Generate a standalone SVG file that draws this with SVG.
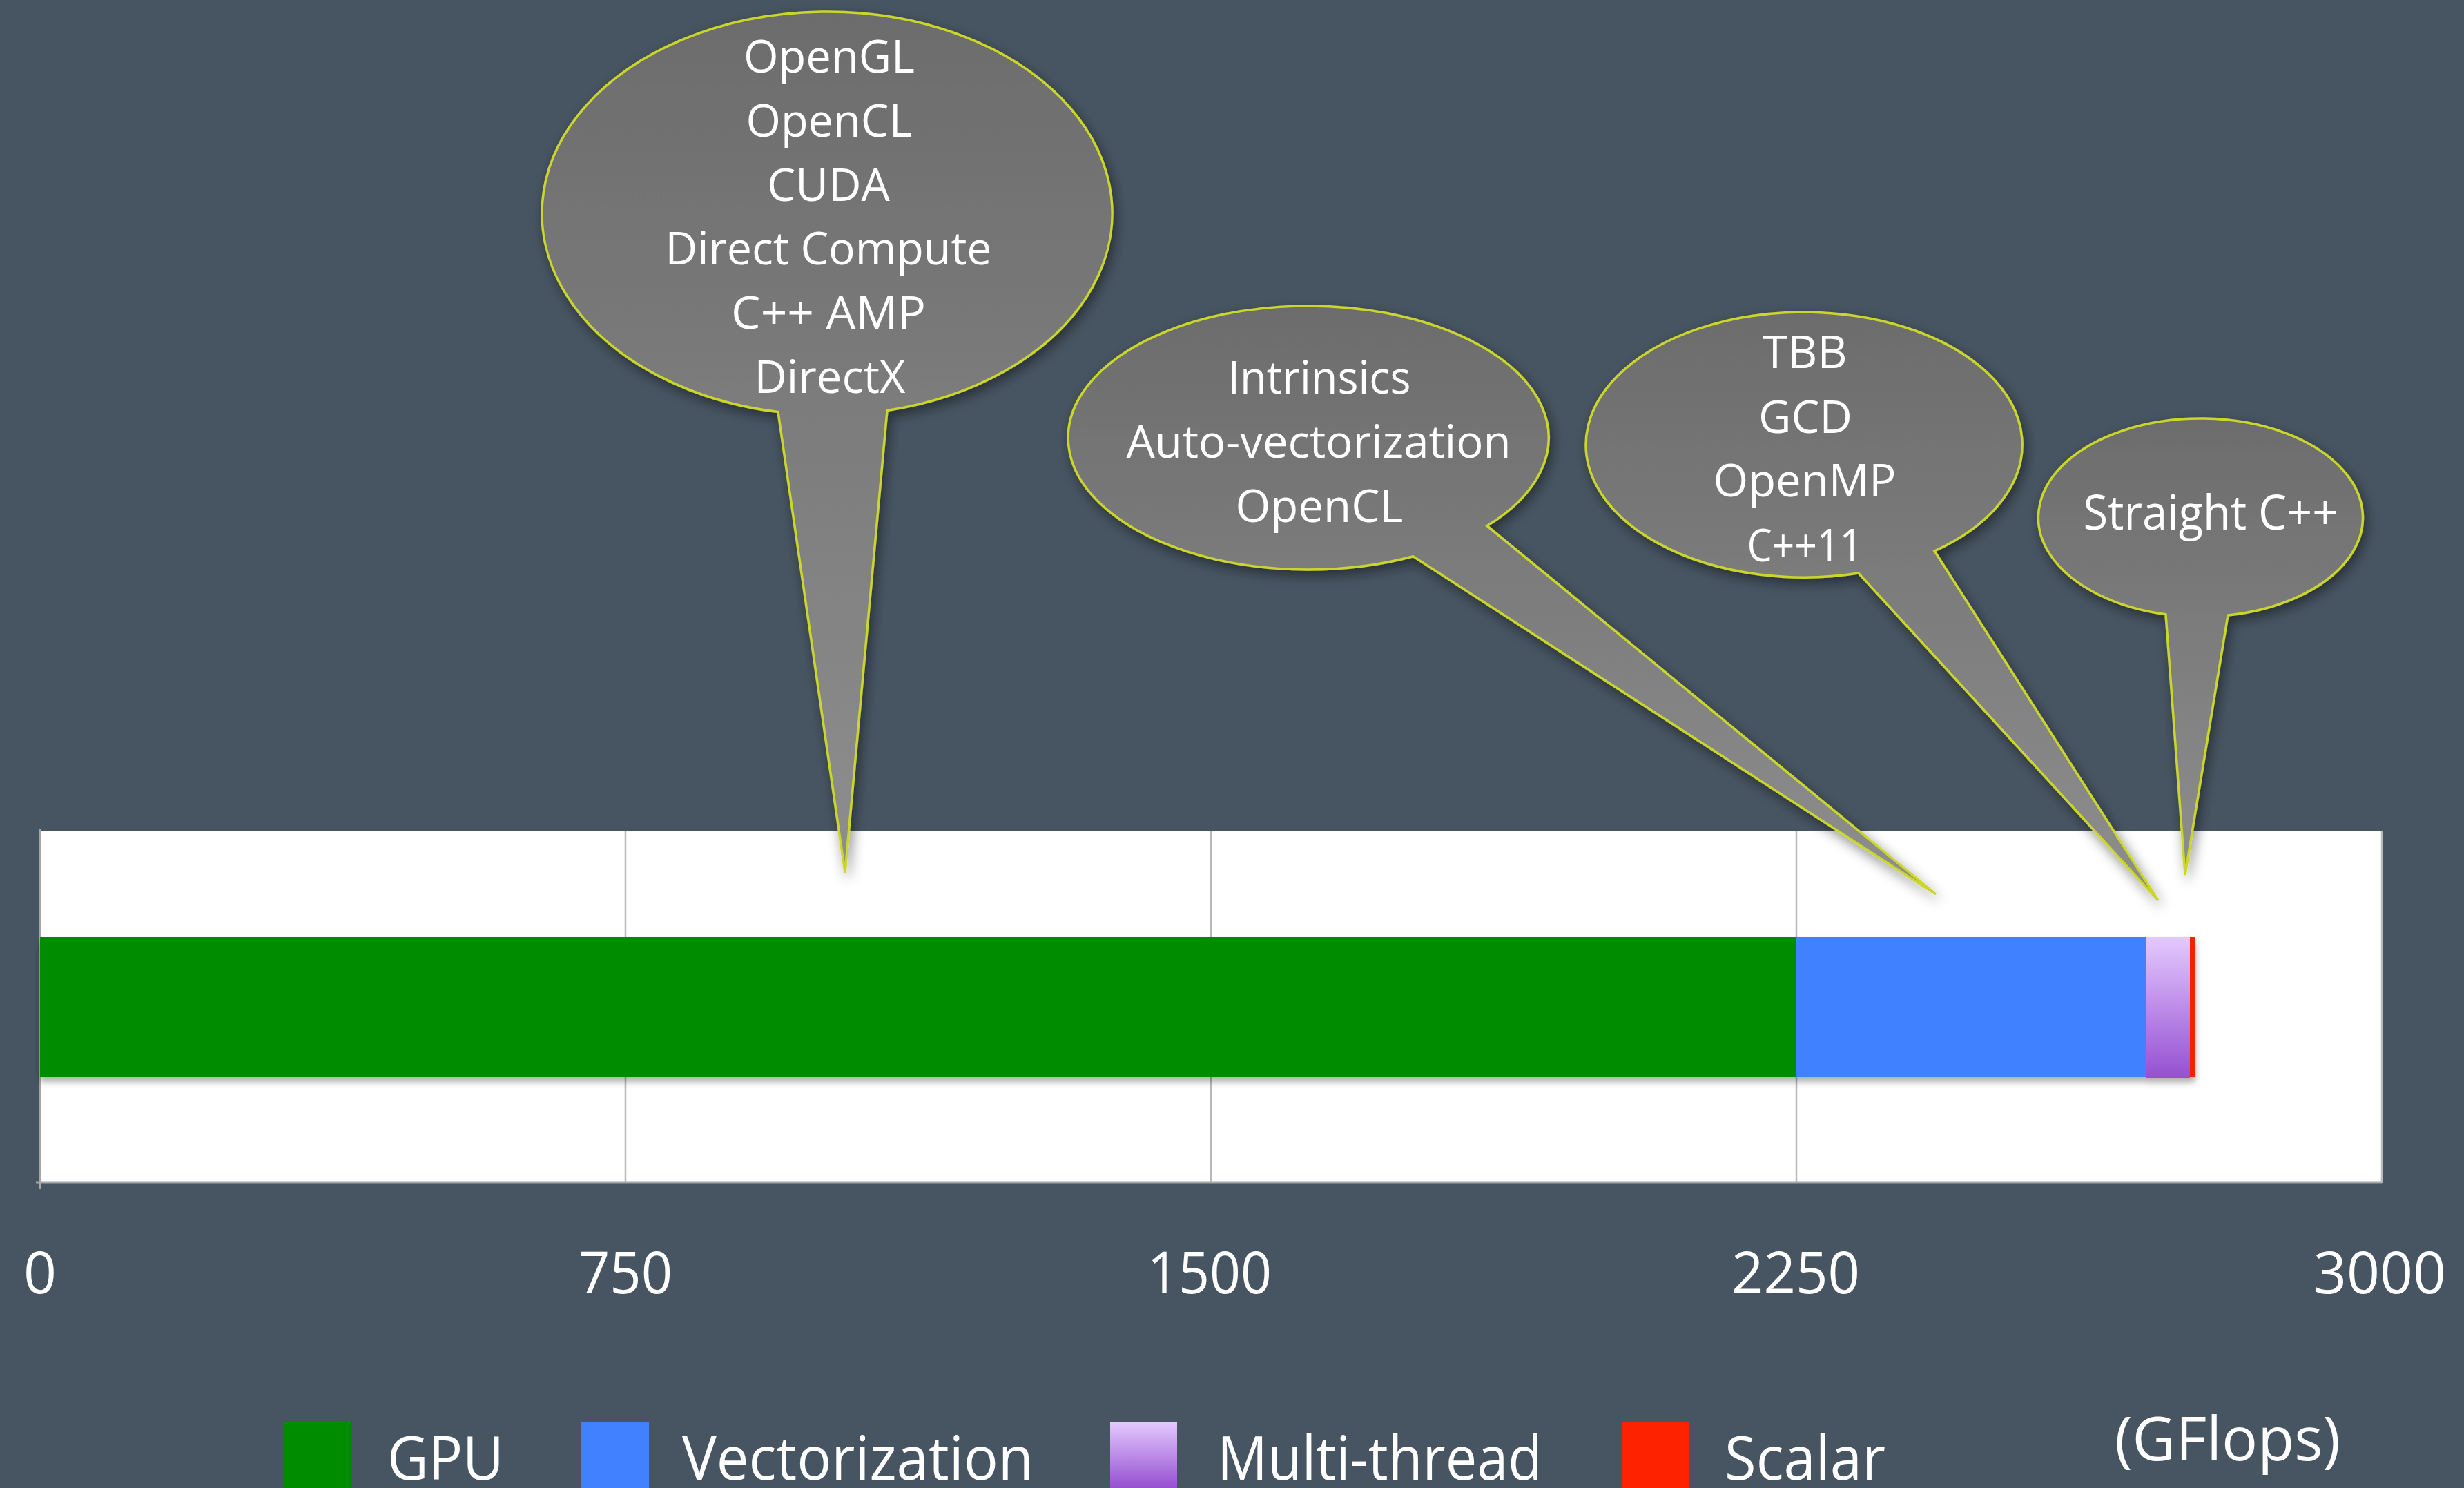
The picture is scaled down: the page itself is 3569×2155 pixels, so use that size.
<svg xmlns="http://www.w3.org/2000/svg" width="3569" height="2155" viewBox="0 0 3569 2155">
<defs>
<style>
text{font-family:"Open Sans","Noto Sans","Liberation Sans",sans-serif;fill:#ffffff;}
.bt{font-size:66px;text-anchor:middle;}
.ax{font-size:85px;text-anchor:middle;}
.lg{font-size:88px;}
.balloon{fill:url(#bfill);stroke:#cbd62c;stroke-width:3.5;stroke-linejoin:miter;filter:url(#bshadow);}
.grid{stroke:#b9b9b9;stroke-width:2.5;}
.axis{stroke:#a6a6a6;stroke-width:3;}
</style>
<linearGradient id="bfill" x1="0" y1="0" x2="0" y2="1">
<stop offset="0" stop-color="#6c6c6c"/>
<stop offset="1" stop-color="#8e8e8e"/>
</linearGradient>
<linearGradient id="mt" x1="0" y1="0" x2="0" y2="1">
<stop offset="0" stop-color="#e4c9ff"/>
<stop offset="1" stop-color="#9550d0"/>
</linearGradient>
<filter id="bshadow" x="-10%" y="-10%" width="125%" height="125%">
<feDropShadow dx="4" dy="7" stdDeviation="9" flood-color="#000000" flood-opacity="0.45"/>
</filter>
<filter id="barshadow" x="-5%" y="-20%" width="110%" height="150%">
<feDropShadow dx="0" dy="7" stdDeviation="5" flood-color="#000000" flood-opacity="0.3"/>
</filter>
</defs>
<rect x="0" y="0" width="3569" height="2155" fill="#475562"/>

<g id="plot">
<rect x="58" y="1203" width="3392" height="510" fill="#ffffff"/>
<line class="grid" x1="906" y1="1203" x2="906" y2="1713"/>
<line class="grid" x1="1754" y1="1203" x2="1754" y2="1713"/>
<line class="grid" x1="2602" y1="1203" x2="2602" y2="1713"/>
<line class="grid" x1="3450" y1="1203" x2="3450" y2="1713"/>
<line class="axis" x1="58" y1="1200" x2="58" y2="1722"/>
<line class="axis" x1="52" y1="1713" x2="3450" y2="1713"/>
</g>

<g id="bar" filter="url(#barshadow)">
<rect x="58" y="1357" width="2544" height="203" fill="#008c00"/>
<rect x="2602" y="1357" width="506" height="203" fill="#4181ff"/>
<rect x="3108" y="1357" width="64" height="204" fill="url(#mt)"/>
<rect x="3172" y="1357" width="8" height="203" fill="#f52200"/>
</g>

<g id="axis-labels">
<text class="ax" x="58" y="1873" textLength="48" lengthAdjust="spacingAndGlyphs">0</text>
<text class="ax" x="906" y="1873" textLength="136" lengthAdjust="spacingAndGlyphs">750</text>
<text class="ax" x="1752" y="1873" textLength="180" lengthAdjust="spacingAndGlyphs">1500</text>
<text class="ax" x="2601" y="1873" textLength="186" lengthAdjust="spacingAndGlyphs">2250</text>
<text class="ax" x="3447" y="1873" textLength="192" lengthAdjust="spacingAndGlyphs">3000</text>
</g>

<g id="balloon-gpu">
<path class="balloon" d="M 1285 594.4 A 413 292 0 1 0 1127 596.6 L 1224 1264 Z"/>
<text class="bt" x="1201" y="105" textLength="248" lengthAdjust="spacingAndGlyphs">OpenGL</text>
<text class="bt" x="1201" y="198" textLength="241" lengthAdjust="spacingAndGlyphs">OpenCL</text>
<text class="bt" x="1200" y="291" textLength="178" lengthAdjust="spacingAndGlyphs">CUDA</text>
<text class="bt" x="1200" y="383" textLength="473" lengthAdjust="spacingAndGlyphs">Direct Compute</text>
<text class="bt" x="1200" y="476" textLength="282" lengthAdjust="spacingAndGlyphs">C++ AMP</text>
<text class="bt" x="1202" y="569" textLength="219" lengthAdjust="spacingAndGlyphs">DirectX</text>
</g>

<g id="balloon-vector">
<path class="balloon" d="M 2154 761.6 A 348 191 0 1 0 2047 805.8 L 2804 1295 Z"/>
<text class="bt" x="1911" y="570" textLength="265" lengthAdjust="spacingAndGlyphs">Intrinsics</text>
<text class="bt" x="1910" y="663" textLength="557" lengthAdjust="spacingAndGlyphs">Auto-vectorization</text>
<text class="bt" x="1911" y="756" textLength="243" lengthAdjust="spacingAndGlyphs">OpenCL</text>
</g>

<g id="balloon-thread">
<path class="balloon" d="M 2802 798 A 316 192 0 1 0 2692 830 L 3126 1304 Z"/>
<text class="bt" x="2614" y="533" textLength="123" lengthAdjust="spacingAndGlyphs">TBB</text>
<text class="bt" x="2615" y="627" textLength="136" lengthAdjust="spacingAndGlyphs">GCD</text>
<text class="bt" x="2614" y="719" textLength="265" lengthAdjust="spacingAndGlyphs">OpenMP</text>
<text class="bt" x="2614" y="813" textLength="167" lengthAdjust="spacingAndGlyphs">C++11</text>
</g>

<g id="balloon-scalar">
<path class="balloon" d="M 3227 891 A 235 143.5 0 1 0 3137 889.7 L 3165 1267 Z"/>
<text class="bt" x="3202" y="767" style="font-size:70px" textLength="369" lengthAdjust="spacingAndGlyphs">Straight C++</text>
</g>

<g id="legend">
<rect x="412" y="2059" width="96" height="96" fill="#008c00"/>
<text class="lg" x="561" y="2143" textLength="169" lengthAdjust="spacingAndGlyphs">GPU</text>
<rect x="841" y="2059" width="99" height="96" fill="#4181ff"/>
<text class="lg" x="988" y="2143" textLength="509" lengthAdjust="spacingAndGlyphs">Vectorization</text>
<rect x="1608" y="2059" width="97" height="96" fill="url(#mt)"/>
<text class="lg" x="1763" y="2143" textLength="471" lengthAdjust="spacingAndGlyphs">Multi-thread</text>
<rect x="2349" y="2059" width="97" height="96" fill="#ff2200"/>
<text class="lg" x="2498" y="2143" textLength="233" lengthAdjust="spacingAndGlyphs">Scalar</text>
<text class="lg" x="3063" y="2115" textLength="327" lengthAdjust="spacingAndGlyphs">(GFlops)</text>
</g>
</svg>
